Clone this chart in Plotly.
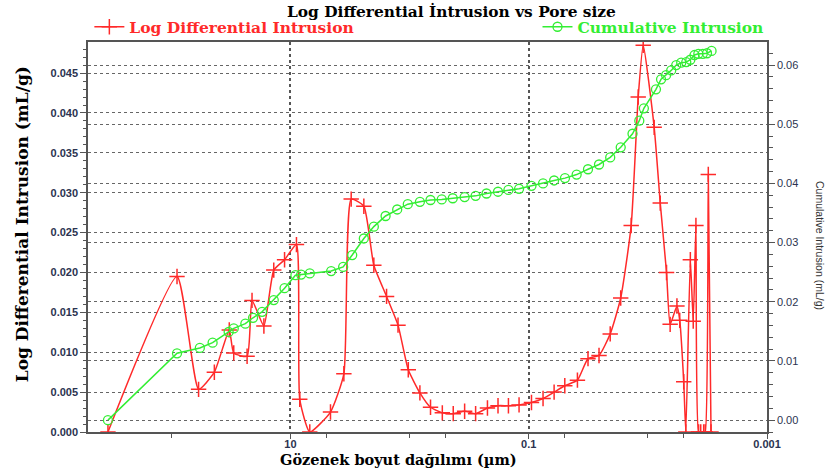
import plotly.graph_objects as go

# Log differential intrusion (left axis)
pore_red = [340, 89.5, 59, 43.5, 32.6, 29.9, 23.1, 21.0, 16.7, 13.8, 11.2, 8.9, 8.35, 6.88,
            4.61, 3.56, 3.09, 2.42, 1.995, 1.56, 1.25, 1.025, 0.819, 0.667, 0.531, 0.430,
            0.345, 0.279, 0.222, 0.181, 0.148, 0.1205, 0.0948, 0.0758, 0.0612, 0.0498,
            0.039, 0.0318, 0.0257, 0.0207, 0.0169, 0.0138, 0.01205, 0.01094, 0.00885,
            0.00787, 0.00697, 0.0065, 0.0057, 0.0054, 0.0050, 0.0048, 0.0044, 0.00416,
            0.00395, 0.00375, 0.0036, 0.0034, 0.0033, 0.00311, 0.00295]
log_diff = [0.0000, 0.0195, 0.00535, 0.0075, 0.0128, 0.0099, 0.0095, 0.0165, 0.0133, 0.0203,
            0.0216, 0.0235, 0.0041, 0.0000, 0.0025, 0.0073, 0.0292, 0.0283, 0.0209, 0.0170,
            0.0134, 0.0078, 0.0049, 0.0031, 0.0024, 0.0023, 0.0026, 0.0023, 0.0030, 0.0033,
            0.0033, 0.0034, 0.0037, 0.0042, 0.0050, 0.0058, 0.0065, 0.0092, 0.0096, 0.0123,
            0.0168, 0.0259, 0.0420, 0.0485, 0.0382, 0.0287, 0.0200, 0.0135, 0.0158, 0.0140,
            0.0063, 0.0000, 0.0216, 0.0139, 0.0259, 0.0000, 0.0000, 0.0000, 0.0000, 0.0323,
            0.0000]

# Cumulative intrusion (right axis)
pore_green = [340, 89.5, 57.6, 45.0, 33.0, 29.9, 23.9, 20.6, 17.3, 13.8, 11.2, 9.08, 8.13,
              6.88, 4.55, 3.61, 3.03, 2.42, 1.995, 1.59, 1.27, 1.035, 0.819, 0.667, 0.537,
              0.434, 0.345, 0.279, 0.226, 0.181, 0.148, 0.1205, 0.0948, 0.0758, 0.0612,
              0.0496, 0.0396, 0.0318, 0.0257, 0.0207, 0.0169, 0.01345, 0.0118, 0.0108,
              0.00855, 0.00775, 0.00703, 0.00637, 0.00578, 0.00525, 0.00476, 0.0044,
              0.00406, 0.00377, 0.00346, 0.00319, 0.00292]
cumulative = [0.0000, 0.0113, 0.0122, 0.0131, 0.0149, 0.0155, 0.0163, 0.0173, 0.0183, 0.0203,
              0.0223, 0.0245, 0.0246, 0.0248, 0.0252, 0.0259, 0.0279, 0.0307, 0.0327, 0.0345,
              0.0356, 0.0365, 0.0369, 0.0372, 0.0373, 0.0375, 0.0377, 0.0379, 0.0383, 0.0386,
              0.0389, 0.0391, 0.0396, 0.0400, 0.0405, 0.0409, 0.0415, 0.0424, 0.0432, 0.0444,
              0.0461, 0.0484, 0.0506, 0.0527, 0.0559, 0.0576, 0.0583, 0.0591, 0.0600, 0.0604,
              0.0605, 0.0609, 0.0617, 0.0619, 0.0619, 0.0620, 0.0624]

x_major = [10, 0.1, 0.001]
x_major_text = ["10", "0.1", "0.001"]
x_minor = [100, 5, 1, 0.5, 0.05, 0.01, 0.005]

RED = "#ff2a2a"
GREEN = "#33ee33"
SERIF = "DejaVu Serif"
SANS = "Liberation Sans"

fig = go.Figure()
fig.add_trace(go.Scatter(
    x=pore_red, y=log_diff, name="Log Differential Intrusion",
    mode="lines+markers",
    line=dict(color=RED, width=1.5, shape="spline", smoothing=0.5),
    marker=dict(symbol="cross-thin", size=11, line=dict(color=RED, width=1.5)),
    legend="legend", yaxis="y",
))
fig.add_trace(go.Scatter(
    x=pore_green, y=cumulative, name="Cumulative Intrusion",
    mode="lines+markers",
    line=dict(color=GREEN, width=1.5),
    marker=dict(symbol="circle-open", size=9, line=dict(color=GREEN, width=1.3)),
    legend="legend2", yaxis="y2",
))

axis_col = "#555555"
grid_col = "#666666"
tickfont = dict(family=SANS, size=11, color="#2b3350", weight="bold")

fig.update_layout(
    width=829, height=474,
    margin=dict(l=88, r=62, t=42, b=42, pad=0, autoexpand=False),
    paper_bgcolor="white", plot_bgcolor="white",
    showlegend=True,
    legend=dict(x=0.002, y=1.038, xanchor="left", yanchor="middle",
                bgcolor="rgba(0,0,0,0)",
                font=dict(family=SERIF, size=15.5, color=RED, weight="bold")),
    legend2=dict(x=0.662, y=1.038, xanchor="left", yanchor="middle",
                 bgcolor="rgba(0,0,0,0)",
                 font=dict(family=SERIF, size=15.5, color=GREEN, weight="bold")),
    xaxis=dict(
        type="log", range=[2.699, -3],
        showline=True, linecolor=axis_col, linewidth=1.5, mirror=True,
        tickvals=x_major, ticktext=x_major_text,
        ticks="outside", ticklen=5, tickcolor=axis_col, tickwidth=1.2,
        ticklabelstandoff=-4,
        showgrid=True, gridcolor="#555555", griddash="dot", gridwidth=1.5,
        zeroline=False, tickfont=tickfont,
        minor=dict(tickvals=x_minor, ticks="outside", ticklen=4,
                   tickcolor=axis_col, showgrid=False),
    ),
    yaxis=dict(
        range=[0, 0.0489], dtick=0.005, tick0=0, tickformat=".3f",
        showline=True, linecolor=axis_col, linewidth=1.5,
        ticks="outside", ticklen=6, tickcolor=axis_col, tickwidth=1.2,
        showgrid=True, gridcolor=grid_col, griddash="dot", gridwidth=1,
        zeroline=False, tickfont=tickfont,
        minor=dict(dtick=0.001, tick0=0, ticks="outside", ticklen=3,
                   tickcolor=axis_col, showgrid=False),
    ),
    yaxis2=dict(
        overlaying="y", side="right",
        range=[-0.002, 0.0639], dtick=0.01, tick0=0, tickformat=".2f",
        showline=True, linecolor=axis_col, linewidth=1.5,
        ticks="outside", ticklen=6, tickcolor=axis_col, tickwidth=1.2,
        showgrid=True, gridcolor=grid_col, griddash="dot", gridwidth=1,
        zeroline=False, tickfont=dict(family=SANS, size=11, color="#2b3350"),
        minor=dict(dtick=0.002, tick0=0, ticks="outside", ticklen=4,
                   tickcolor=axis_col, showgrid=False),
    ),
    annotations=[
        dict(text="Log Differential İntrusion vs Pore size", xref="paper", yref="paper",
             x=0.536, y=1.077, xanchor="center", yanchor="middle", showarrow=False,
             font=dict(family=SERIF, size=15.4, color="black", weight="bold")),
        dict(text="Gözenek boyut dağılımı (µm)", xref="paper", yref="paper",
             x=0.458, y=-0.07, xanchor="center", yanchor="middle", showarrow=False,
             font=dict(family=SERIF, size=14.5, color="black", weight="bold")),
        dict(text="Log Differential Intrusion (mL/g)", xref="paper", yref="paper",
             x=-0.097, y=0.533, xanchor="center", yanchor="middle", showarrow=False,
             textangle=-90,
             font=dict(family=SERIF, size=17, color="black", weight="bold")),
        dict(text="Cumulative Intrusion (mL/g)", xref="paper", yref="paper",
             x=1.078, y=0.477, xanchor="center", yanchor="middle", showarrow=False,
             textangle=90,
             font=dict(family=SANS, size=10.5, color="#333333")),
    ],
)

fig.write_html(
    "out.html",
    config={"displayModeBar": False},
    post_script="document.body.style.margin='0';document.body.style.overflow='hidden';",
)
